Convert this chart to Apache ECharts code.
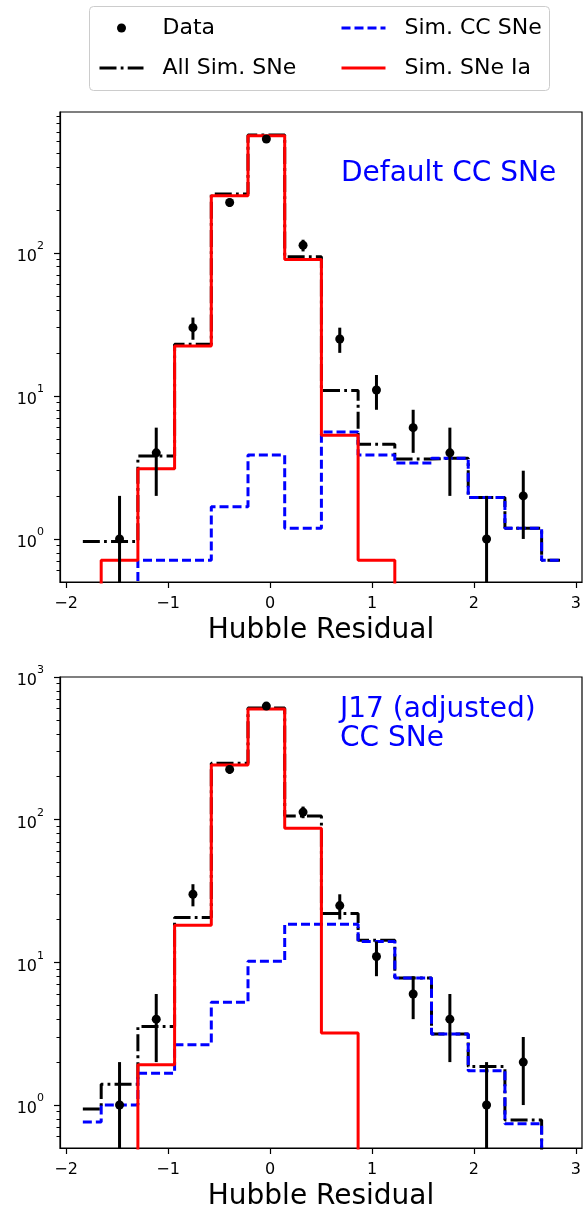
<!DOCTYPE html>
<html><head><meta charset="utf-8">
<script src="https://cdn.jsdelivr.net/npm/echarts@6/dist/echarts.min.js"></script>
<style>html,body{margin:0;padding:0;background:#fff}#c{width:588px;height:1211px}</style>
</head><body><div id="c"></div>
<script>
// ---- data ----
const binCenters = [-1.836, -1.476, -1.116, -0.756, -0.396, -0.036, 0.324, 0.684, 1.044, 1.404, 1.764, 2.124, 2.484, 2.844];

// Panel 1: Default CC SNe
const allSimTop = [0.96, 0.96, 3.8, 23, 258, 668, 94, 10.9, 4.6, 3.62, 3.66, 1.95, 1.19, 0.71];
const ccTop     = [0, 0, 0.71, 0.71, 1.68, 3.86, 1.19, 5.6, 3.86, 3.39, 3.66, 1.95, 1.19, 0.71];
const iaTop     = [0, 0.71, 3.1, 22.3, 251, 660, 90, 5.3, 0.71, 0, 0, 0, 0, 0];

// Panel 2: J17 (adjusted) CC SNe
const allSimBot = [0.94, 1.40, 3.55, 20.6, 249, 607, 106, 22.0, 14.3, 7.76, 3.15, 1.86, 0.785, 0];
const ccBot     = [0.76, 1.0, 1.67, 2.65, 5.26, 10.2, 18.5, 18.5, 14.0, 7.76, 3.15, 1.74, 0.74, 0];
const iaBot     = [0, 0, 1.92, 18.2, 242, 597, 87, 3.2, 0, 0, 0, 0, 0, 0];

// Observed data
const dataCenters = [-1.476, -1.116, -0.756, -0.396, -0.036, 0.324, 0.684, 1.044, 1.404, 1.764, 2.124, 2.484];
const dataCounts  = [1, 4, 30, 225, 625, 113, 25, 11, 6, 4, 1, 2];
const dataErr     = [1, 2, 5.3, 15, 25, 10.6, 5, 3, 2, 2, 1, 1];

// Ticks / labels
const xTicks = [-2, -1, 0, 1, 2, 3];
const yMajorTicks = [1, 10, 100, 1000];
const yMinorTicks = [0.6, 0.7, 0.8, 0.9, 2, 3, 4, 5, 6, 7, 8, 9, 20, 30, 40, 50, 60, 70, 80, 90, 200, 300, 400, 500, 600, 700, 800, 900];
const seriesNames = ['Data', 'All Sim. SNe', 'Sim. CC SNe', 'Sim. SNe Ia'];
const panelLabels = ['Default CC SNe', 'J17 (adjusted)\nCC SNe'];
const xLabel = 'Hubble Residual';
const yRanges = [[0.5, 966], [0.5, 1000]];
const xRange = [-2.06, 3.06];

// ---- chart ----
const FONT = 'DejaVu Sans';
const FLOOR = 1e-3; // zero-count bins drop below the log axis
const steps = vals => binCenters.map((x, i) => [x, vals[i] > 0 ? vals[i] : FLOOR]);
const panels = [
  {all: allSimTop, cc: ccTop, ia: iaTop},
  {all: allSimBot, cc: ccBot, ia: iaBot}
];
const gridsPos = [{left: 60, top: 112, width: 522, height: 470}, {left: 60, top: 677, width: 522, height: 471}];

const grid = [], xAxis = [], yAxis = [], series = [];
const axisLineStyle = {color: '#000', width: 1.2};
panels.forEach((p, i) => {
  grid.push(Object.assign({show: true, borderColor: '#000', borderWidth: 1.2, backgroundColor: 'transparent', outerBoundsMode: 'none', containLabel: false}, gridsPos[i]));
  xAxis.push({
    type: 'value', gridIndex: i, min: xRange[0], max: xRange[1],
    axisLine: {show: true, onZero: false, lineStyle: axisLineStyle},
    axisTick: {show: true, length: 6, lineStyle: axisLineStyle, customValues: xTicks},
    axisLabel: {customValues: xTicks, formatter: v => String(v).replace('-', '\u2212'), fontSize: 16, color: '#000', fontFamily: FONT, margin: 14},
    splitLine: {show: false},
    name: xLabel, nameLocation: 'middle', nameGap: 35,
    nameTextStyle: {fontSize: 28, color: '#000', fontFamily: FONT}
  });
  yAxis.push({
    type: 'log', logBase: 10, gridIndex: i, min: yRanges[i][0], max: yRanges[i][1], position: 'left',
    axisLine: {show: true, onZero: false, lineStyle: axisLineStyle},
    axisTick: {show: true, length: 6, lineStyle: axisLineStyle, customValues: yMajorTicks.filter(v => v <= yRanges[i][1])},
    axisLabel: {
      customValues: yMajorTicks.filter(v => v <= yRanges[i][1]),
      formatter: v => '{b|10}{e|' + Math.round(Math.log10(v)) + '}',
      margin: 16,
      rich: {
        b: {fontSize: 16, lineHeight: 24, color: '#000', fontFamily: FONT, verticalAlign: 'bottom'},
        e: {fontSize: 11, lineHeight: 12, color: '#000', fontFamily: FONT, verticalAlign: 'top'}
      }
    },
    splitLine: {show: false}
  });
  yAxis.push({
    type: 'log', logBase: 10, gridIndex: i, min: yRanges[i][0], max: yRanges[i][1], position: 'left', offset: 0,
    axisLine: {show: false, onZero: false},
    axisTick: {show: true, length: 3.5, lineStyle: {color: '#000', width: 1}, customValues: yMinorTicks},
    axisLabel: {show: false},
    splitLine: {show: false}
  });
  const common = {type: 'line', xAxisIndex: i, yAxisIndex: 2 * i, step: 'middle', symbol: 'none', showSymbol: false, clip: true, silent: true, animation: false};
  series.push(Object.assign({}, common, {name: seriesNames[1], data: steps(p.all), z: 2,
    itemStyle: {color: '#000'}, lineStyle: {color: '#000', width: 3, type: [17, 4.2, 2.8, 4.2]}}));
  series.push(Object.assign({}, common, {name: seriesNames[2], data: steps(p.cc), z: 3,
    itemStyle: {color: '#0000ff'}, lineStyle: {color: '#0000ff', width: 3, type: [9, 4]}}));
  series.push(Object.assign({}, common, {name: seriesNames[3], data: steps(p.ia), z: 4,
    itemStyle: {color: '#ff0000'}, lineStyle: {color: '#ff0000', width: 3, type: 'solid'}}));
  series.push({
    type: 'custom', name: 'Data error', xAxisIndex: i, yAxisIndex: 2 * i, z: 5, silent: true, animation: false,
    encode: {x: 0, y: 1},
    data: dataCenters.map((x, k) => [x, dataCounts[k], dataErr[k]]),
    renderItem: (params, api) => {
      const x = api.value(0), y = api.value(1), e = api.value(2);
      const cs = params.coordSys;
      const px = api.coord([x, y])[0];
      let yTop = api.coord([x, y + e])[1];
      let yBot = (y - e) > 0 ? api.coord([x, y - e])[1] : cs.y + cs.height;
      yTop = Math.max(yTop, cs.y); yBot = Math.min(yBot, cs.y + cs.height);
      return {type: 'line', shape: {x1: px, y1: yTop, x2: px, y2: yBot}, style: {stroke: '#000', lineWidth: 3}};
    }
  });
  series.push({
    type: 'scatter', name: seriesNames[0], xAxisIndex: i, yAxisIndex: 2 * i, z: 6, silent: true, animation: false,
    symbol: 'circle', symbolSize: 9, itemStyle: {color: '#000', opacity: 1},
    data: dataCenters.map((x, k) => [x, dataCounts[k]])
  });
});

const legendText = {fontSize: 22, lineHeight: 24, color: '#000', fontFamily: FONT, padding: [0, 0, 0, 14]};
const legendCommon = {orient: 'vertical', top: 16, padding: 0, itemGap: 16, itemHeight: 9, itemWidth: 44, selectedMode: false, z: 5,
  lineStyle: {width: 'inherit', type: 'inherit'}, textStyle: legendText};
const noSym = {opacity: 0, borderWidth: 0};
const legend = [
  Object.assign({}, legendCommon, {left: 98,
    data: [{name: seriesNames[0]}, {name: seriesNames[1], itemStyle: noSym}]}),
  Object.assign({}, legendCommon, {left: 340,
    data: [{name: seriesNames[2], itemStyle: noSym}, {name: seriesNames[3], itemStyle: noSym}]})
];

const graphic = [
  {type: 'rect', z: 1, shape: {x: 89.5, y: 6.5, width: 460, height: 84, r: 4},
   style: {fill: 'rgba(255,255,255,0.8)', stroke: '#cccccc', lineWidth: 1}},
  {type: 'text', z: 10, x: 341, y: 160, style: {text: panelLabels[0], fontSize: 28, fill: '#0000ff', fontFamily: FONT, verticalAlign: 'top'}},
  {type: 'text', z: 10, x: 340, y: 695, style: {text: panelLabels[1], fontSize: 28, lineHeight: 29, fill: '#0000ff', fontFamily: FONT, verticalAlign: 'top'}}
];

const chart = echarts.init(document.getElementById('c'), null, {renderer: 'canvas'});
chart.setOption({animation: false, backgroundColor: '#fff', grid, xAxis, yAxis, series, legend, graphic});
</script>
</body></html>
